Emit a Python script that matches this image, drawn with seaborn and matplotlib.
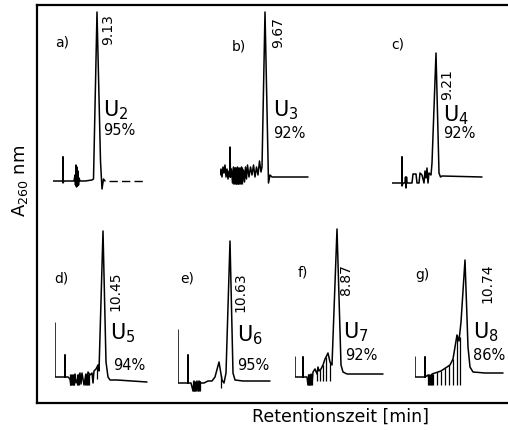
import matplotlib
matplotlib.use("Agg")
import matplotlib.pyplot as plt
import seaborn as sns
import pandas as pd

sns.set_theme(style="white")
plt.rcParams['font.family'] = ['DejaVu Sans']
plt.rcParams['text.color'] = 'black'

# ---------------- data ----------------
panel_letters = ["a)", "b)", "c)", "d)", "e)", "f)", "g)"]
retention_labels = ["9.13", "9.67", "9.21", "10.45", "10.63", "8.87", "10.74"]
compound_labels = ["U$_2$", "U$_3$", "U$_4$", "U$_5$", "U$_6$", "U$_7$", "U$_8$"]
purity_labels = ["95%", "92%", "92%", "94%", "95%", "92%", "86%"]

a_t = [0.0, 0.9, 1.0, 1.0, 1.0, 1.1, 2.1, 2.2, 2.25, 2.3, 2.35, 2.4, 2.45, 2.5, 2.55, 2.6, 2.7, 3.2, 3.9, 4.05, 4.4, 4.75, 4.9, 5.05, 5.2]
a_A = [0.0, 0.0, 0.0, 0.24, -0.02, 0.0, 0.0, 0.06, -0.04, 0.16, -0.06, 0.14, -0.05, 0.1, -0.04, 0.03, 0.0, 0.0, 0.01, 0.02, 1.69, 0.2, -0.08, 0.02, 0.0]
a_tail_t = [5.6, 9.0]
a_tail_A = [0.0, 0.0]

b_t = [0.0, 0.1, 0.2, 0.3, 0.4, 0.5, 0.6, 0.7, 0.8, 0.9, 1.0, 1.0, 1.05, 1.15, 1.25, 1.35, 1.45, 1.55, 1.65, 1.75, 1.85, 1.95, 2.05, 2.15, 2.25, 2.35, 2.45, 2.55, 2.65, 2.75, 2.9, 3.05, 3.2, 3.35, 3.5, 3.65, 3.8, 3.95, 4.1, 4.2, 4.5, 4.85, 5.0, 5.2, 8.8]
b_A = [0.02, 0.08, 0.0, 0.1, 0.04, 0.12, 0.0, 0.08, -0.02, 0.06, 0.0, 0.30, 0.0, 0.08, -0.06, 0.1, -0.06, 0.09, -0.07, 0.1, -0.07, 0.08, -0.06, 0.1, -0.05, 0.07, -0.05, 0.1, -0.02, 0.12, 0.0, 0.1, 0.02, 0.12, 0.0, 0.1, 0.02, 0.16, 0.05, 0.1, 1.65, -0.06, 0.02, 0.0, 0.0]

c_t = [0.0, 0.5, 0.9, 1.0, 1.0, 1.0, 1.1, 1.3, 1.35, 1.4, 1.45, 1.5, 2.0, 2.1, 2.2, 2.4, 2.5, 2.7, 2.8, 3.0, 3.2, 3.3, 3.4, 3.5, 3.6, 3.7, 3.9, 4.0, 4.4, 4.7, 4.85, 5.0, 9.0]
c_A = [0.0, 0.0, 0.0, 0.0, 0.26, -0.03, 0.0, 0.0, 0.06, -0.05, 0.06, 0.0, 0.0, 0.09, 0.09, 0.09, 0.0, 0.0, 0.1, 0.08, 0.0, 0.12, 0.05, 0.15, 0.0, 0.1, 0.08, 0.2, 1.30, 0.1, 0.06, 0.07, 0.06]

d_t = [0.0, 0.0, 0.5, 1.0, 1.0, 1.0, 1.3, 1.5, 1.6, 1.7, 1.9, 2.0, 2.1, 2.3, 2.5, 2.6, 2.7, 2.9, 3.1, 3.2, 3.3, 3.5, 3.7, 3.8, 3.9, 4.1, 4.3, 4.4, 4.8, 5.1, 5.3, 5.5, 6.2, 9.2]
d_A = [0.54, 0.0, 0.0, 0.0, 0.22, 0.0, 0.0, -0.02, -0.08, 0.0, -0.08, 0.03, -0.06, -0.01, 0.04, -0.07, 0.04, -0.08, 0.03, -0.07, 0.05, 0.02, 0.04, -0.06, 0.06, 0.08, 0.12, 0.06, 1.46, 0.15, 0.0, -0.03, -0.03, -0.05]

e_t = [0.0, 0.0, 0.5, 1.0, 1.0, 1.0, 1.3, 1.5, 1.6, 1.7, 1.9, 2.0, 2.1, 2.3, 2.6, 3.0, 3.4, 3.7, 4.1, 4.4, 4.6, 4.8, 5.2, 5.5, 5.7, 6.5, 9.2]
e_A = [0.53, 0.0, 0.0, 0.0, 0.28, 0.0, 0.0, -0.08, 0.02, -0.08, 0.02, -0.08, 0.02, 0.0, 0.0, 0.02, 0.02, 0.06, 0.21, 0.03, 0.0, 0.1, 1.42, 0.1, 0.03, 0.02, 0.02]

f_t = [0.0, 0.0, 0.5, 0.8, 0.8, 0.8, 1.2, 1.3, 1.4, 1.5, 1.6, 1.7, 1.8, 2.0, 2.2, 2.3, 2.4, 2.6, 2.8, 3.0, 3.3, 3.5, 3.7, 4.2, 4.6, 4.8, 5.2, 8.8]
f_A = [0.2, 0.0, 0.0, 0.0, 0.2, 0.0, 0.0, -0.08, 0.02, -0.08, 0.03, -0.07, 0.05, 0.08, 0.03, 0.1, 0.06, 0.08, 0.12, 0.18, 0.24, 0.15, 0.12, 1.48, 0.12, 0.05, 0.03, 0.03]

g_t = [0.0, 0.0, 0.5, 1.0, 1.0, 1.0, 1.3, 1.5, 1.7, 2.0, 2.3, 2.6, 2.9, 3.2, 3.5, 3.8, 4.0, 4.2, 4.4, 4.6, 5.0, 5.3, 5.5, 5.8, 7.0, 8.8]
g_A = [0.2, 0.0, 0.0, 0.0, 0.2, 0.0, 0.02, -0.06, 0.03, 0.04, 0.05, 0.06, 0.08, 0.1, 0.12, 0.18, 0.3, 0.42, 0.36, 0.55, 1.17, 0.3, 0.1, 0.05, 0.04, 0.04]

# integration / noise marks: time, low, high
b_mark_t = [1.3, 1.4, 1.5, 1.6, 1.7, 1.8, 1.9, 2.0, 2.1, 2.2]
b_mark_lo = [-0.07] * 10
b_mark_hi = [0.1] * 10
d_mark_t = [1.5, 1.6, 1.7, 1.8, 1.9, 2.2, 2.3, 2.4, 3.0, 3.1, 3.2, 3.3, 3.4, 4.2]
d_mark_lo = [-0.08] * 13 + [-0.02]
d_mark_hi = [0.03] * 13 + [0.1]
e_mark_t = [1.5, 1.6, 1.7, 1.8, 2.0, 2.1, 2.2, 4.3]
e_mark_lo = [-0.08] * 7 + [-0.05]
e_mark_hi = [0.02] * 7 + [0.08]
f_mark_t = [1.3, 1.4, 1.5, 1.6, 1.7, 2.2, 2.5, 2.8, 3.1, 3.5]
f_mark_lo = [-0.08] * 5 + [-0.04] * 5
f_mark_hi = [0.03] * 5 + [0.05, 0.08, 0.12, 0.2, 0.15]
g_mark_t = [1.3, 1.4, 1.5, 1.6, 1.7, 1.8, 2.2, 2.6, 3.0, 3.4, 3.8, 4.2, 4.5]
g_mark_lo = [-0.08] * 13
g_mark_hi = [0.03] * 6 + [0.05, 0.06, 0.09, 0.12, 0.18, 0.42, 0.4]

traces = [(a_t, a_A), (b_t, b_A), (c_t, c_A), (d_t, d_A), (e_t, e_A), (f_t, f_A), (g_t, g_A)]
marks = [None, (b_mark_t, b_mark_lo, b_mark_hi), None, (d_mark_t, d_mark_lo, d_mark_hi),
         (e_mark_t, e_mark_lo, e_mark_hi), (f_mark_t, f_mark_lo, f_mark_hi), (g_mark_t, g_mark_lo, g_mark_hi)]

# ---------------- layout (pixels) ----------------
W, H = 508, 430
anchors = [(53, 181), (220, 177), (392, 183), (55, 377), (178, 383), (295, 377), (415, 377)]
letter_pos = [(62, 43), (239, 47), (398, 44), (61, 278), (187, 278), (303, 272), (422, 275)]
rt_pos = [(108, 30), (278, 33), (447, 85), (115, 291), (240, 292), (346, 280), (487, 283)]
comp_pos = [(103, 110), (273, 110), (443, 115), (110, 333), (237, 335), (343, 332), (473, 332)]
pur_pos = [(103, 131), (273, 133), (443, 133), (113, 365), (237, 365), (345, 355), (473, 355)]

fig = plt.figure(figsize=(W / 100, H / 100), dpi=100)
fig.patch.set_facecolor("white")

def fx(px):
    return px / W

def fy(py):
    return 1 - py / H

# outer frame
frame = fig.add_axes([fx(37), fy(403), 1 - fx(37), fy(5) - fy(403)])
frame.set_xticks([])
frame.set_yticks([])
frame.set_facecolor("none")
for side in ["left", "top", "bottom"]:
    frame.spines[side].set_visible(True)
    frame.spines[side].set_color("black")
    frame.spines[side].set_linewidth(1.6)
frame.spines["right"].set_visible(False)

for i, ((t, A), (x0, yb)) in enumerate(zip(traces, anchors)):
    ax = fig.add_axes([fx(x0), fy(yb + 15), 100 / W, 190 / H])
    ax.set_xlim(0, 10)
    ax.set_ylim(-0.15, 1.75)
    ax.axis("off")
    df = pd.DataFrame({"t": t, "A": A})
    sns.lineplot(data=df, x="t", y="A", sort=False, estimator=None, color="black", lw=1.1, ax=ax)
    if i == 0:
        tail = pd.DataFrame({"t": a_tail_t, "A": a_tail_A})
        sns.lineplot(data=tail, x="t", y="A", sort=False, estimator=None, color="black",
                     lw=1.0, ax=ax, dashes=False, linestyle=(0, (6, 3)))
    if marks[i] is not None:
        mt, lo, hi = marks[i]
        ax.vlines(mt, lo, hi, color="black", lw=0.9)

    fig.text(fx(letter_pos[i][0]), fy(letter_pos[i][1]), panel_letters[i], fontsize=10,
             ha="center", va="center", color="black")
    fig.text(fx(rt_pos[i][0]), fy(rt_pos[i][1]), retention_labels[i], fontsize=10,
             ha="center", va="center", rotation=90, color="black")
    fig.text(fx(comp_pos[i][0]), fy(comp_pos[i][1]), compound_labels[i], fontsize=15,
             ha="left", va="center", color="black")
    fig.text(fx(pur_pos[i][0]), fy(pur_pos[i][1]), purity_labels[i], fontsize=10.5,
             ha="left", va="center", color="black")

fig.text(fx(20), fy(181), "A$_{260}$ nm", fontsize=13, rotation=90, ha="center", va="center",
         color="black")
fig.text(fx(340), fy(417), "Retentionszeit [min]", fontsize=12.5, ha="center", va="center",
         color="black")

fig.savefig("out.png", dpi=100, facecolor="white")
